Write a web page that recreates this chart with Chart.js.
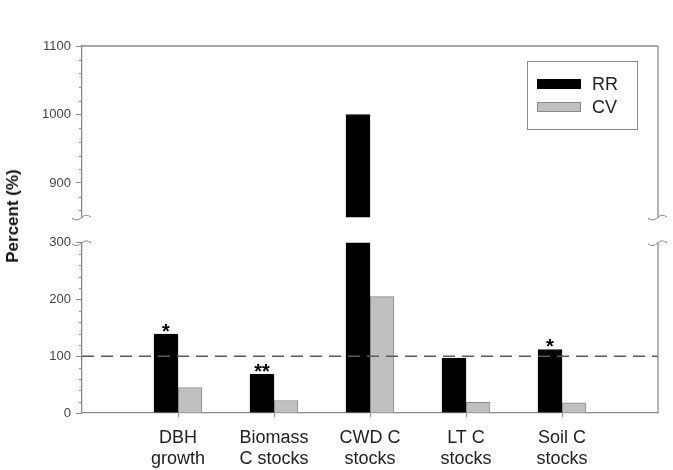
<!DOCTYPE html>
<html>
<head>
<meta charset="utf-8">
<title>Percent (%)</title>
<script src="https://cdn.jsdelivr.net/npm/chart.js@4.4.0/dist/chart.umd.min.js"></script>
<style>
  body { margin: 0; background: #fff; }
  #wrap { position: relative; width: 673px; height: 470px; font-family: "Liberation Sans", Arial, sans-serif; }
  #topChart { position: absolute; left: 0; top: 0; }
  #bottomChart { position: absolute; left: 0; top: 230px; }
  #yTitle { position: absolute; left: 13px; top: 216px; transform: translate(-50%, -50%) rotate(-90deg);
            font-weight: bold; font-size: 17px; color: #111; white-space: nowrap; }
  #legend { position: absolute; left: 527px; top: 61px; width: 109px; height: 67px; border: 1px solid #8a8a8a; }
  #legend .item { position: absolute; left: 9px; height: 22px; display: flex; align-items: center; }
  #legend .sw { width: 44px; height: 10px; box-sizing: border-box; margin-right: 11px; }
  #legend .txt { font-size: 18px; color: #222; }
</style>
</head>
<body>
<div id="wrap">
  <canvas id="topChart" width="673" height="230"></canvas>
  <canvas id="bottomChart" width="673" height="240"></canvas>
  <div id="yTitle">Percent (%)</div>
  <div id="legend"></div>
</div>
<script>
// data
const categories = [['DBH', 'growth'], ['Biomass', 'C stocks'], ['CWD C', 'stocks'], ['LT C', 'stocks'], ['Soil C', 'stocks']];
const seriesNames = ['RR', 'CV'];
const rrValues = [139, 68, 1000, 97, 112];
const cvValues = [45, 22, 205, 19, 18];
const significance = ['*', '**', '', '', '*'];
const refLineValue = 100;
const upperRange = [850, 1100];
const lowerRange = [0, 300];
const upperTickLabels = [900, 1000, 1100];
const lowerTickLabels = [0, 100, 200, 300];

const FONT = '"Liberation Sans", Arial, sans-serif';
const AXIS = '#8a8a8a';
const seriesColors = ['#000000', '#c0c0c0'];
const seriesBorders = ['#000000', '#8a8a8a'];

function makeDatasets() {
  return [rrValues, cvValues].map((vals, s) => ({
    label: seriesNames[s],
    data: vals.map((v, i) => ({ x: i + 1, y: v })),
    backgroundColor: seriesColors[s],
    borderColor: seriesBorders[s],
    borderWidth: 1,
    barThickness: 24
  }));
}

function xScale(show) {
  return {
    type: 'linear', min: 0, max: categories.length + 1, offset: false,
    display: show,
    afterBuildTicks: sc => { sc.ticks = categories.map((c, i) => ({ value: i + 1 })); },
    afterFit: sc => { if (show) sc.height = 57; },
    grid: { drawOnChartArea: false, offset: false, tickLength: 4, color: AXIS },
    border: { color: AXIS, width: 1.3 },
    ticks: {
      autoSkip: false, maxRotation: 0, padding: 10, color: '#222',
      font: { family: FONT, size: 18 }, lineHeight: 1.2,
      callback: (v, i) => categories[i]
    }
  };
}

function yScale(range, labels) {
  return {
    min: range[0], max: range[1],
    afterFit: sc => { sc.width = 82; },
    grid: {
      drawOnChartArea: false, tickLength: 6,
      tickColor: c => labels.includes(c.tick.value) ? AXIS : 'rgba(0,0,0,0)'
    },
    border: { color: AXIS, width: 1.3 },
    ticks: {
      stepSize: 20, includeBounds: false, autoSkip: false, padding: 5, color: '#444',
      font: { family: FONT, size: 13 },
      callback: v => labels.includes(v) ? String(v) : ''
    }
  };
}

function squiggle(ctx, x, y) {
  ctx.beginPath();
  ctx.moveTo(x - 10, y + 1);
  ctx.quadraticCurveTo(x - 5, y + 5, x, y);
  ctx.quadraticCurveTo(x + 4, y - 4, x + 9, y);
  ctx.stroke();
}

// frame pieces, minor ticks, break marks
function framePlugin(part) {
  return {
    id: 'frame' + part,
    afterDraw(chart) {
      const ctx = chart.ctx, a = chart.chartArea, ys = chart.scales.y;
      ctx.save();
      ctx.strokeStyle = AXIS;
      ctx.lineWidth = 1.3;
      ctx.beginPath();
      ctx.moveTo(a.right, a.top); ctx.lineTo(a.right, a.bottom);
      if (part === 'top') { ctx.moveTo(a.left, a.top); ctx.lineTo(a.right, a.top); }
      ctx.stroke();
      ctx.lineWidth = 1;
      ys.ticks.forEach(t => {
        if (t.value % 20 === 0 && t.value % 100 !== 0) {
          const py = Math.round(ys.getPixelForValue(t.value)) + 0.5;
          ctx.beginPath(); ctx.moveTo(a.left - 3, py); ctx.lineTo(a.left, py); ctx.stroke();
        }
      });
      const by = part === 'top' ? a.bottom : a.top;
      squiggle(ctx, a.left, by);
      squiggle(ctx, a.right, by);
      ctx.restore();
    }
  };
}

const markPlugin = {
  id: 'marks',
  afterDatasetsDraw(chart) {
    const ctx = chart.ctx, a = chart.chartArea;
    const py = chart.scales.y.getPixelForValue(refLineValue);
    ctx.save();
    ctx.strokeStyle = '#5a5a5a';
    ctx.lineWidth = 1.6;
    ctx.setLineDash([12, 7]);
    ctx.beginPath(); ctx.moveTo(a.left, py); ctx.lineTo(a.right, py); ctx.stroke();
    ctx.setLineDash([]);
    ctx.fillStyle = '#000';
    ctx.font = 'bold 20px ' + FONT;
    ctx.textAlign = 'center';
    ctx.textBaseline = 'alphabetic';
    const bars = chart.getDatasetMeta(0).data;
    significance.forEach((s, i) => {
      if (s) ctx.fillText(s, bars[i].x, bars[i].y + 4);
    });
    ctx.restore();
  }
};

const common = {
  responsive: false, animation: false, devicePixelRatio: 1,
  plugins: { legend: { display: false }, tooltip: { enabled: false } }
};

const topChart = new Chart(document.getElementById('topChart'), {
  type: 'bar',
  data: { datasets: makeDatasets() },
  options: Object.assign({}, common, {
    layout: { padding: { top: 46, bottom: 9, left: 0, right: 15 } },
    scales: { x: xScale(false), y: yScale(upperRange, upperTickLabels) }
  }),
  plugins: [framePlugin('top')]
});

const bottomChart = new Chart(document.getElementById('bottomChart'), {
  type: 'bar',
  data: { datasets: makeDatasets() },
  options: Object.assign({}, common, {
    layout: { padding: { top: 10, bottom: 0, left: 0, right: 15 } },
    scales: { x: xScale(true), y: yScale(lowerRange, lowerTickLabels) }
  }),
  plugins: [framePlugin('bottom'), markPlugin]
});

// legend built from the chart's datasets
const legendBox = document.getElementById('legend');
bottomChart.data.datasets.forEach((ds, i) => {
  const item = document.createElement('div');
  item.className = 'item';
  item.style.top = (11 + i * 23) + 'px';
  item.innerHTML = '<span class="sw" style="background:' + ds.backgroundColor + ';border:1px solid ' + ds.borderColor + '"></span><span class="txt">' + ds.label + '</span>';
  legendBox.appendChild(item);
});
</script>
</body>
</html>
